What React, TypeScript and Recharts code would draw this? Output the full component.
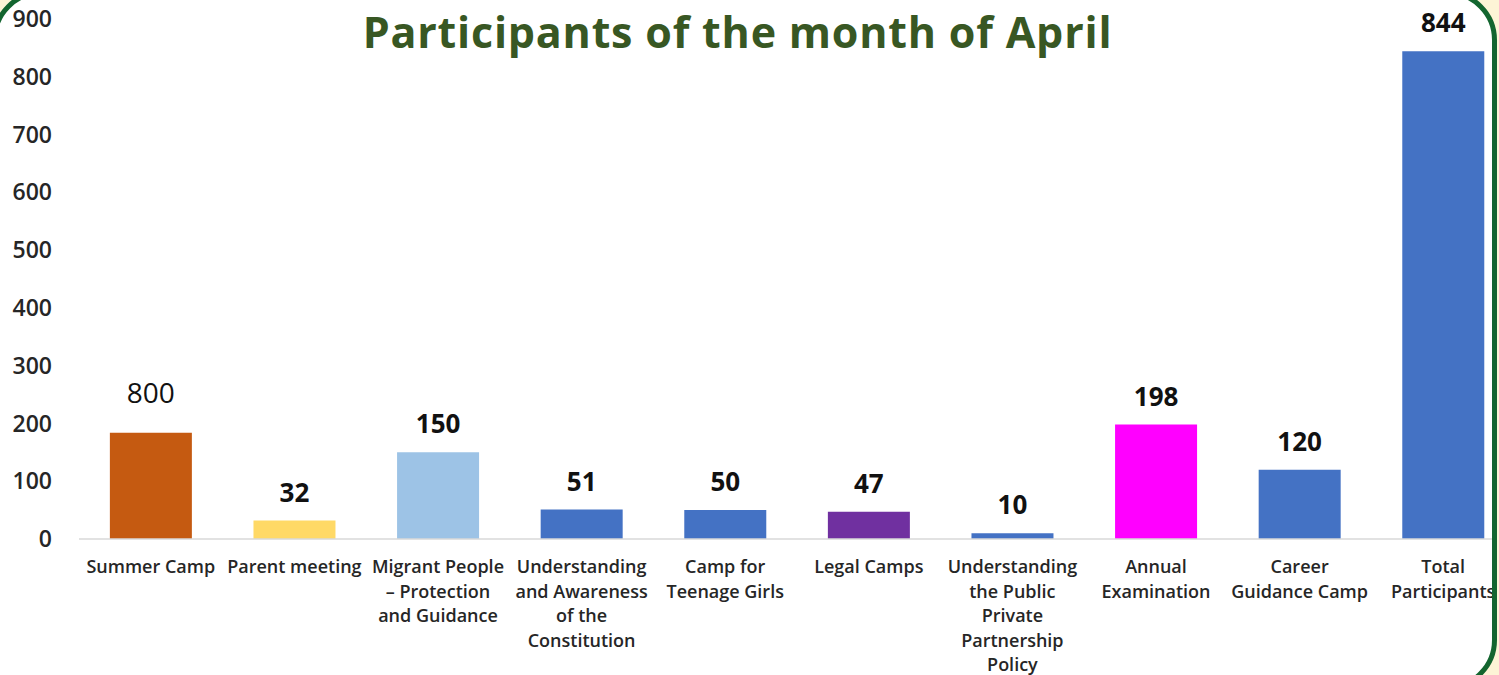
import React from 'react';
import { BarChart, Bar, XAxis, YAxis, Cell, LabelList } from 'recharts';

const categories = [
  'Summer Camp',
  'Parent meeting',
  'Migrant People – Protection and Guidance',
  'Understanding and Awareness of the Constitution',
  'Camp for Teenage Girls',
  'Legal Camps',
  'Understanding the Public Private Partnership Policy',
  'Annual Examination',
  'Career Guidance Camp',
  'Total Participants',
];

const tickLines = [
  ['Summer Camp'],
  ['Parent meeting'],
  ['Migrant People', '– Protection', 'and Guidance'],
  ['Understanding', 'and Awareness', 'of the', 'Constitution'],
  ['Camp for', 'Teenage Girls'],
  ['Legal Camps'],
  ['Understanding', 'the Public', 'Private', 'Partnership', 'Policy'],
  ['Annual', 'Examination'],
  ['Career', 'Guidance Camp'],
  ['Total', 'Participants'],
];

const participants = [184, 32, 150, 51, 50, 47, 10, 198, 120, 844];
const valueLabels = ['800', '32', '150', '51', '50', '47', '10', '198', '120', '844'];
const yTicks = [0, 100, 200, 300, 400, 500, 600, 700, 800, 900];

const barColors = [
  '#c55a11', '#ffd966', '#9dc3e6', '#4472c4', '#4472c4',
  '#7030a0', '#4472c4', '#ff00ff', '#4472c4', '#4472c4',
];

const font = '"Open Sans", sans-serif';

const data = categories.map((name, i) => ({ name, value: participants[i], idx: i }));

const CategoryTick = ({ x, y, index }: any) => {
  const lines = tickLines[index] || [];
  return (
    <text x={x} y={y + 32} textAnchor="middle" fill="#262626" fontFamily={font} fontSize={18} fontWeight={600}>
      {lines.map((l, i) => (
        <tspan key={i} x={x} dy={i === 0 ? 0 : 24.5}>{l}</tspan>
      ))}
    </text>
  );
};

const ValueLabel = (props: any) => {
  const { x, y, width, index } = props;
  // first label is drawn in a lighter weight, higher above its bar
  const plain = index === 0;
  return (
    <text
      x={x + width / 2}
      y={y - (plain ? 30 : 19)}
      textAnchor="middle"
      fill="#111"
      fontFamily={font}
      fontSize={plain ? 28 : 26}
      fontWeight={plain ? 400 : 700}
    >
      {valueLabels[index]}
    </text>
  );
};

export default function App() {
  return (
    <div style={{ position: 'fixed', left: 0, top: 0, width: 1499, height: 675, overflow: 'hidden', background: '#fdf4d6' }}>
      <div
        style={{
          position: 'absolute', left: -8, top: -10, width: 1505, height: 700,
          boxSizing: 'border-box', border: '5px solid #13652f', borderRadius: '50px 50px 50px 0',
          background: '#ffffff', overflow: 'hidden',
        }}
      >
        <div
          style={{
            position: 'absolute', left: 3, top: 7, width: 1475, textAlign: 'center',
            fontFamily: font, fontWeight: 700, fontSize: 43, letterSpacing: 0.8,
            color: '#385723', lineHeight: 'normal', whiteSpace: 'nowrap',
          }}
        >
          Participants of the month of April
        </div>
        <div style={{ position: 'absolute', left: 3, top: 5 }}>
          <BarChart
            width={1515}
            height={675}
            data={data}
            margin={{ top: 19, right: 0, bottom: 0, left: 0 }}
            barCategoryGap="21.5%"
          >
            <XAxis
              dataKey="name"
              height={136}
              interval={0}
              tickLine={false}
              tickSize={0}
              axisLine={{ stroke: '#d9d9d9', strokeWidth: 1.5 }}
              tick={<CategoryTick />}
            />
            <YAxis
              width={79}
              domain={[0, 900]}
              ticks={yTicks}
              axisLine={false}
              tickLine={false}
              tickSize={0}
              tickMargin={27}
              tick={{ fill: '#262626', fontFamily: font, fontSize: 23, fontWeight: 600 }}
            />
            <Bar dataKey="value" isAnimationActive={false}>
              {data.map((d) => (
                <Cell key={d.idx} fill={barColors[d.idx]} />
              ))}
              <LabelList dataKey="value" content={<ValueLabel />} />
            </Bar>
          </BarChart>
        </div>
      </div>
    </div>
  );
}
